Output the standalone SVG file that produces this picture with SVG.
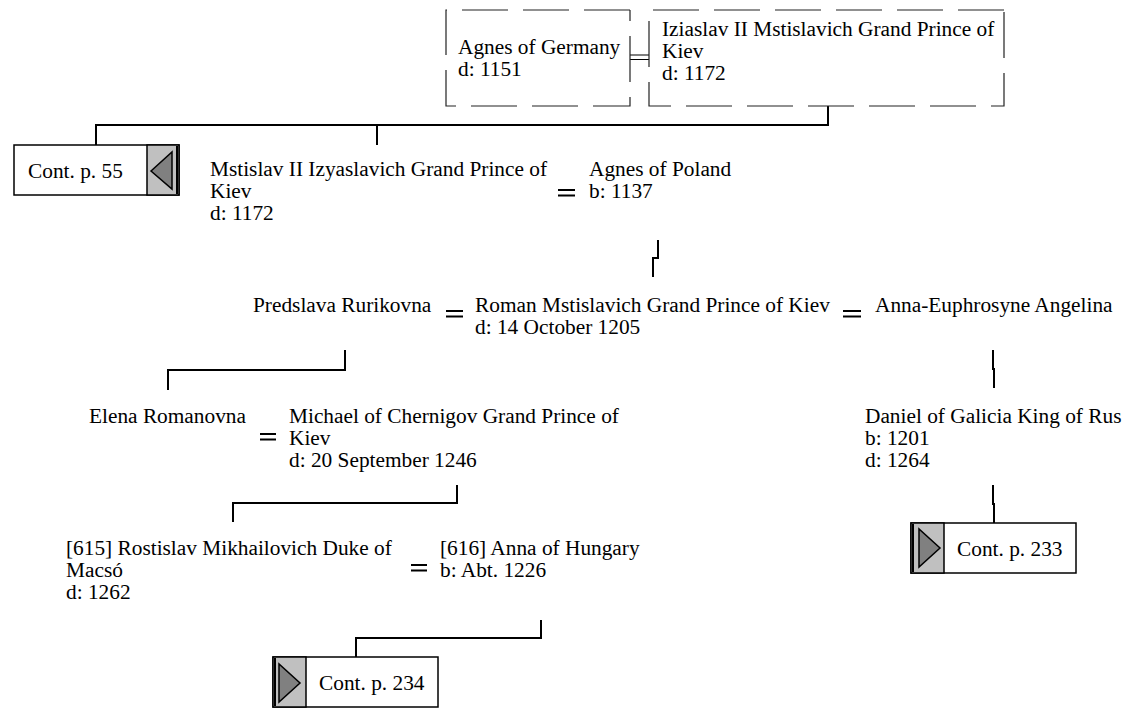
<svg xmlns="http://www.w3.org/2000/svg" width="1128" height="708" viewBox="0 0 1128 708">
<style>
text{font-family:"Liberation Serif","Times New Roman",serif;font-size:21.33px;fill:#000}
.c{fill:none;stroke:#000;stroke-width:2}
.m{fill:none;stroke:#000;stroke-width:2}
.m1{fill:none;stroke:#000;stroke-width:1.2}
.d{fill:none;stroke:#222;stroke-width:1.2;stroke-dasharray:46,15}
.box{fill:#fff;stroke:#000;stroke-width:1.5}
.g{fill:#c0c0c0;stroke:#000;stroke-width:1.5}
.t{fill:#808080;stroke:#000;stroke-width:1.5}
</style>
<rect width="1128" height="708" fill="#fff"/>
<g id="connectors">
<path class="c" d="M828,106V125H96V145M377,125V145"/>
<path class="c" d="M658,240V258H653V277"/>
<path class="c" d="M345,350V370H168V390"/>
<path class="c" d="M993,350V369H994V388"/>
<path class="c" d="M457,485V503H233V522"/>
<path class="c" d="M993,485V504H994V523"/>
<path class="c" d="M541,620V638H356V657"/>
<path class="m1" d="M630,55H649M630,59.5H649"/>
<path class="m" d="M558,190H575M558,195.5H575"/>
<path class="m" d="M446,311H463M446,316.5H463"/>
<path class="m" d="M843,311H861M843,316.5H861"/>
<path class="m" d="M260,434H276M260,439.5H276"/>
<path class="m" d="M411,565H427M411,570.5H427"/>
</g>
<g id="agnes-germany">
<path class="d" d="M630,10H446V106H630V10"/>
<text x="458" y="54">Agnes of Germany</text>
<text x="458" y="76">d: 1151</text>
</g>
<g id="iziaslav">
<path class="d" d="M1004,10H649V106H1004V10"/>
<text x="662" y="36">Iziaslav II Mstislavich Grand Prince of</text>
<text x="662" y="58">Kiev</text>
<text x="662" y="80">d: 1172</text>
</g>
<g id="cont55">
<rect class="box" x="14" y="145" width="165" height="50"/>
<rect class="g" x="147" y="145" width="32" height="50"/>
<path d="M177,146V194" stroke="#000" stroke-width="2"/>
<polygon class="t" points="151,171 172,152 172,189"/>
<text x="28" y="178">Cont. p. 55</text>
</g>
<g id="mstislav">
<text x="210" y="176">Mstislav II Izyaslavich Grand Prince of</text>
<text x="210" y="198">Kiev</text>
<text x="210" y="220">d: 1172</text>
</g>
<g id="agnes-poland">
<text x="589" y="176">Agnes of Poland</text>
<text x="589" y="198">b: 1137</text>
</g>
<g id="predslava">
<text x="253" y="312">Predslava Rurikovna</text>
</g>
<g id="roman">
<text x="475" y="312">Roman Mstislavich Grand Prince of Kiev</text>
<text x="475" y="334">d: 14 October 1205</text>
</g>
<g id="anna-euphrosyne">
<text x="875" y="312">Anna-Euphrosyne Angelina</text>
</g>
<g id="elena">
<text x="89" y="423">Elena Romanovna</text>
</g>
<g id="michael">
<text x="289" y="423">Michael of Chernigov Grand Prince of</text>
<text x="289" y="445">Kiev</text>
<text x="289" y="467">d: 20 September 1246</text>
</g>
<g id="daniel">
<text x="865" y="423">Daniel of Galicia King of Rus</text>
<text x="865" y="445">b: 1201</text>
<text x="865" y="467">d: 1264</text>
</g>
<g id="cont233">
<rect class="box" x="911" y="523" width="165" height="50"/>
<rect class="g" x="911" y="523" width="33" height="50"/>
<path d="M913,524V572" stroke="#000" stroke-width="2"/>
<polygon class="t" points="919,529 919,567 940,548"/>
<text x="957" y="556">Cont. p. 233</text>
</g>
<g id="rostislav">
<text x="66" y="555">[615] Rostislav Mikhailovich Duke of</text>
<text x="66" y="577">Macsó</text>
<text x="66" y="599">d: 1262</text>
</g>
<g id="anna-hungary">
<text x="440" y="555">[616] Anna of Hungary</text>
<text x="440" y="577">b: Abt. 1226</text>
</g>
<g id="cont234">
<rect class="box" x="273" y="657" width="165" height="50"/>
<rect class="g" x="273" y="657" width="33" height="50"/>
<path d="M275,658V706" stroke="#000" stroke-width="2"/>
<polygon class="t" points="279,664 279,702 300,683"/>
<text x="319" y="690">Cont. p. 234</text>
</g>
</svg>
